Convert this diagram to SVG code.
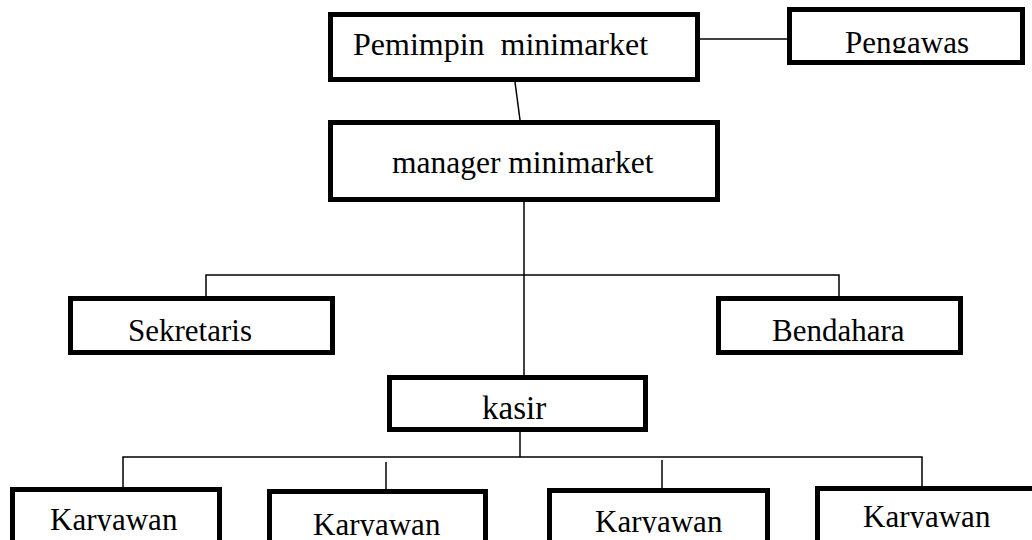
<svg xmlns="http://www.w3.org/2000/svg" width="1032" height="540" viewBox="0 0 1032 540">
<style>
.box{fill:#fff;stroke:#000;stroke-width:5}
.lbl{font-family:'Liberation Serif','DejaVu Serif',serif;font-size:31px;fill:#000}
.con{stroke:#000;stroke-width:1.5;fill:none}
</style>
<defs>
<clipPath id="cPeng"><rect x="792" y="12" width="228" height="41"/></clipPath>
<clipPath id="cSek"><rect x="73" y="301" width="257" height="40"/></clipPath>
<clipPath id="cBen"><rect x="721" y="301" width="237" height="40"/></clipPath>
<clipPath id="cKas"><rect x="392" y="380" width="251" height="40"/></clipPath>
<clipPath id="cK1"><rect x="15" y="492" width="202" height="39"/></clipPath>
<clipPath id="cK2"><rect x="272" y="494" width="211" height="42"/></clipPath>
<clipPath id="cK3"><rect x="552" y="493" width="213" height="40"/></clipPath>
<clipPath id="cK4"><rect x="820" y="491" width="212" height="37"/></clipPath>
</defs>
<rect width="1032" height="540" fill="#fff"/>
<g id="connectors">
<line class="con" x1="700" y1="39" x2="787" y2="39"/>
<line class="con" x1="515" y1="82" x2="520" y2="120"/>
<line class="con" x1="524" y1="202" x2="524" y2="377"/>
<polyline class="con" points="206,298 206,275 839,275 839,298"/>
<line class="con" x1="520" y1="432" x2="520" y2="457"/>
<polyline class="con" points="123,489 123,457 922,457 922,487"/>
<line class="con" x1="386" y1="462" x2="386" y2="491"/>
<line class="con" x1="662" y1="460" x2="662" y2="490"/>
</g>
<g id="pemimpin">
<rect class="box" x="330.5" y="14.5" width="367" height="65"/>
<text class="lbl" font-family="Liberation Serif, serif" x="353" y="55" style="font-size:32px;white-space:pre" xml:space="preserve">Pemimpin  minimarket</text>
</g>
<g id="pengawas">
<rect class="box" x="789.5" y="9.5" width="233" height="53"/>
<text class="lbl" font-family="Liberation Serif, serif" x="845" y="53" clip-path="url(#cPeng)">Pengawas</text>
</g>
<g id="manager">
<rect class="box" x="330.5" y="122.5" width="387" height="77"/>
<text class="lbl" font-family="Liberation Serif, serif" x="392" y="173" style="font-size:31.5px">manager minimarket</text>
</g>
<g id="sekretaris">
<rect class="box" x="70.5" y="298.5" width="262" height="54"/>
<text class="lbl" font-family="Liberation Serif, serif" x="128" y="341" clip-path="url(#cSek)">Sekretaris</text>
</g>
<g id="bendahara">
<rect class="box" x="718.5" y="298.5" width="242" height="54"/>
<text class="lbl" font-family="Liberation Serif, serif" x="772" y="341" clip-path="url(#cBen)">Bendahara</text>
</g>
<g id="kasir">
<rect class="box" x="389.5" y="377.5" width="256" height="52"/>
<text class="lbl" font-family="Liberation Serif, serif" x="482" y="419" style="font-size:33px" clip-path="url(#cKas)">kasir</text>
</g>
<g id="karyawan1">
<rect class="box" x="12.5" y="489.5" width="207" height="60"/>
<text class="lbl" font-family="Liberation Serif, serif" x="50" y="530" clip-path="url(#cK1)">Karyawan</text>
</g>
<g id="karyawan2">
<rect class="box" x="269.5" y="491.5" width="216" height="60"/>
<text class="lbl" font-family="Liberation Serif, serif" x="313" y="535" clip-path="url(#cK2)">Karyawan</text>
</g>
<g id="karyawan3">
<rect class="box" x="549.5" y="490.5" width="218" height="60"/>
<text class="lbl" font-family="Liberation Serif, serif" x="595" y="532" clip-path="url(#cK3)">Karyawan</text>
</g>
<g id="karyawan4">
<rect class="box" x="817.5" y="488.5" width="220" height="60"/>
<text class="lbl" font-family="Liberation Serif, serif" x="863" y="527" clip-path="url(#cK4)">Karyawan</text>
</g>
</svg>
